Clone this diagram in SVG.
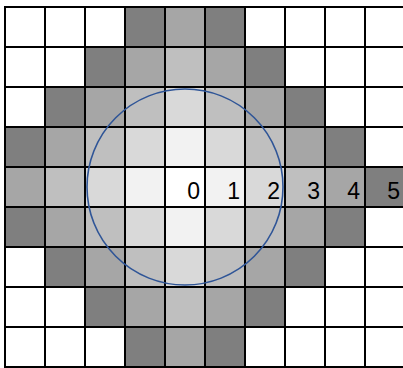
<svg xmlns="http://www.w3.org/2000/svg" width="403" height="368" viewBox="0 0 403 368">
<style>
.d1{fill:#F2F2F2}.d2{fill:#D9D9D9}.d3{fill:#BFBFBF}.d4{fill:#A6A6A6}.d5{fill:#7F7F7F}
.grid line{stroke:#000;stroke-width:2}
.lbl{font-family:"Liberation Sans",Arial,sans-serif;font-size:23px;fill:#000;text-anchor:end}
</style>
<rect x="0" y="0" width="403" height="368" fill="#FFFFFF"/>
<g id="cells">
<!-- row 0 -->
<rect class="d5" x="125" y="7" width="40" height="40"/><rect class="d4" x="165" y="7" width="40" height="40"/><rect class="d5" x="205" y="7" width="40" height="40"/>
<!-- row 1 -->
<rect class="d5" x="85" y="47" width="40" height="40"/><rect class="d4" x="125" y="47" width="40" height="40"/><rect class="d3" x="165" y="47" width="40" height="40"/><rect class="d4" x="205" y="47" width="40" height="40"/><rect class="d5" x="245" y="47" width="40" height="40"/>
<!-- row 2 -->
<rect class="d5" x="45" y="87" width="40" height="40"/><rect class="d4" x="85" y="87" width="40" height="40"/><rect class="d3" x="125" y="87" width="40" height="40"/><rect class="d2" x="165" y="87" width="40" height="40"/><rect class="d3" x="205" y="87" width="40" height="40"/><rect class="d4" x="245" y="87" width="40" height="40"/><rect class="d5" x="285" y="87" width="40" height="40"/>
<!-- row 3 -->
<rect class="d5" x="5" y="127" width="40" height="40"/><rect class="d4" x="45" y="127" width="40" height="40"/><rect class="d3" x="85" y="127" width="40" height="40"/><rect class="d2" x="125" y="127" width="40" height="40"/><rect class="d1" x="165" y="127" width="40" height="40"/><rect class="d2" x="205" y="127" width="40" height="40"/><rect class="d3" x="245" y="127" width="40" height="40"/><rect class="d4" x="285" y="127" width="40" height="40"/><rect class="d5" x="325" y="127" width="40" height="40"/>
<!-- row 4 -->
<rect class="d4" x="5" y="167" width="40" height="40"/><rect class="d3" x="45" y="167" width="40" height="40"/><rect class="d2" x="85" y="167" width="40" height="40"/><rect class="d1" x="125" y="167" width="40" height="40"/><rect class="d1" x="205" y="167" width="40" height="40"/><rect class="d2" x="245" y="167" width="40" height="40"/><rect class="d3" x="285" y="167" width="40" height="40"/><rect class="d4" x="325" y="167" width="40" height="40"/><rect class="d5" x="365" y="167" width="40" height="40"/>
<!-- row 5 -->
<rect class="d5" x="5" y="207" width="40" height="40"/><rect class="d4" x="45" y="207" width="40" height="40"/><rect class="d3" x="85" y="207" width="40" height="40"/><rect class="d2" x="125" y="207" width="40" height="40"/><rect class="d1" x="165" y="207" width="40" height="40"/><rect class="d2" x="205" y="207" width="40" height="40"/><rect class="d3" x="245" y="207" width="40" height="40"/><rect class="d4" x="285" y="207" width="40" height="40"/><rect class="d5" x="325" y="207" width="40" height="40"/>
<!-- row 6 -->
<rect class="d5" x="45" y="247" width="40" height="40"/><rect class="d4" x="85" y="247" width="40" height="40"/><rect class="d3" x="125" y="247" width="40" height="40"/><rect class="d2" x="165" y="247" width="40" height="40"/><rect class="d3" x="205" y="247" width="40" height="40"/><rect class="d4" x="245" y="247" width="40" height="40"/><rect class="d5" x="285" y="247" width="40" height="40"/>
<!-- row 7 -->
<rect class="d5" x="85" y="287" width="40" height="40"/><rect class="d4" x="125" y="287" width="40" height="40"/><rect class="d3" x="165" y="287" width="40" height="40"/><rect class="d4" x="205" y="287" width="40" height="40"/><rect class="d5" x="245" y="287" width="40" height="40"/>
<!-- row 8 -->
<rect class="d5" x="125" y="327" width="40" height="40"/><rect class="d4" x="165" y="327" width="40" height="40"/><rect class="d5" x="205" y="327" width="40" height="40"/>
</g>
<g id="grid" class="grid">
<line x1="5" y1="6" x2="5" y2="368"/><line x1="45" y1="6" x2="45" y2="368"/><line x1="85" y1="6" x2="85" y2="368"/><line x1="125" y1="6" x2="125" y2="368"/><line x1="165" y1="6" x2="165" y2="368"/><line x1="205" y1="6" x2="205" y2="368"/><line x1="245" y1="6" x2="245" y2="368"/><line x1="285" y1="6" x2="285" y2="368"/><line x1="325" y1="6" x2="325" y2="368"/><line x1="365" y1="6" x2="365" y2="368"/>
<line x1="4" y1="7" x2="403" y2="7"/><line x1="4" y1="47" x2="403" y2="47"/><line x1="4" y1="87" x2="403" y2="87"/><line x1="4" y1="127" x2="403" y2="127"/><line x1="4" y1="167" x2="403" y2="167"/><line x1="4" y1="207" x2="403" y2="207"/><line x1="4" y1="247" x2="403" y2="247"/><line x1="4" y1="287" x2="403" y2="287"/><line x1="4" y1="327" x2="403" y2="327"/><line x1="4" y1="367" x2="403" y2="367"/>
</g>
<circle id="radius" cx="185" cy="187" r="98" fill="none" stroke="#2F5597" stroke-width="1.6"/>
<g id="labels">
<text class="lbl" x="200" y="199">0</text>
<text class="lbl" x="240" y="199">1</text>
<text class="lbl" x="280" y="199">2</text>
<text class="lbl" x="320" y="199">3</text>
<text class="lbl" x="360" y="199">4</text>
<text class="lbl" x="400" y="199">5</text>
</g>
</svg>
